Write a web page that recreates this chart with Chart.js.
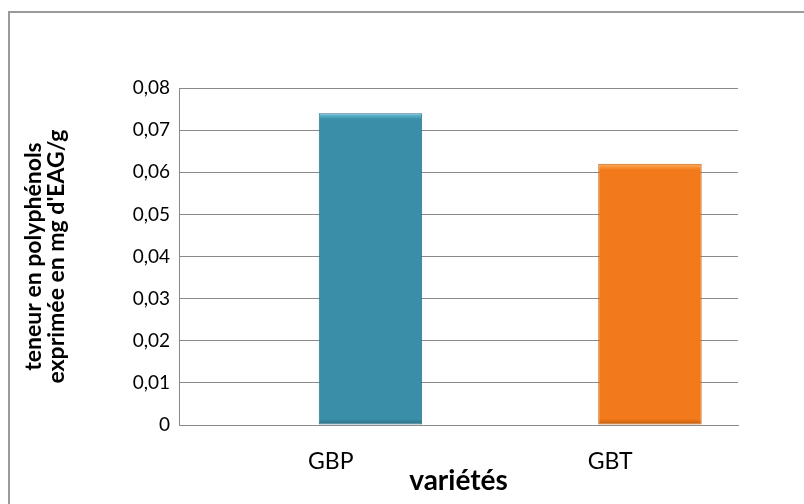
<!DOCTYPE html>
<html><head><meta charset="utf-8">
<script src="https://cdn.jsdelivr.net/npm/chart.js@4/dist/chart.umd.min.js"></script>
<style>
html,body{margin:0;padding:0;background:#fff;overflow:hidden}
#frame{position:absolute;left:8px;top:11px;width:900px;height:600px;border-left:2px solid #9a9a9a;border-top:2px solid #9a9a9a}
#wrap{position:absolute;left:0;top:0;width:804px;height:504px}
</style></head>
<body>
<div id="frame"></div>
<div id="wrap"><canvas id="c" width="804" height="504"></canvas></div>
<script>
const categories = ['GBP', 'GBT'];
const values = [0.074, 0.062];
const yTitle = ['teneur en polyphénols', "exprimée en mg d'EAG/g"];
const xTitle = 'variétés';
const fills = ['#3b8ea7', '#f27a1a'];
const lights = ['#6cc3dc', '#ffae5e'];
const darks = ['#2a6a7e', '#b8590c'];
const borders = ['#2c7085', '#c65e0c'];

function barFill(ctx) {
  const i = ctx.dataIndex;
  const chart = ctx.chart;
  const ys = chart.scales && chart.scales.y;
  if (!ys || ys.top === undefined || !isFinite(ys.getPixelForValue(values[i]))) return fills[i];
  const yTop = ys.getPixelForValue(values[i]);
  const yBase = ys.getPixelForValue(0);
  const h = Math.max(yBase - yTop, 1);
  const g = chart.ctx.createLinearGradient(0, yTop, 0, yBase);
  const e = Math.min(6 / h, 0.2);
  g.addColorStop(0, lights[i]);
  g.addColorStop(e, fills[i]);
  g.addColorStop(1 - e, fills[i]);
  g.addColorStop(1, darks[i]);
  return g;
}

new Chart(document.getElementById('c'), {
  type: 'bar',
  data: {
    labels: categories,
    datasets: [
      {data: categories.map(() => null), backgroundColor: 'rgba(0,0,0,0)'},
      {data: values, backgroundColor: barFill, borderColor: borders, borderWidth: 1, borderSkipped: false}
    ]
  },
  options: {
    responsive: false,
    animation: false,
    categoryPercentage: 0.74,
    barPercentage: 1,
    layout: {padding: {left: 0, right: 66, top: 88, bottom: 0}},
    plugins: {legend: {display: false}, tooltip: {enabled: false}},
    scales: {
      y: {
        min: 0, max: 0.08,
        ticks: {stepSize: 0.01, color: '#000', padding: 9,
          font: {family: 'Lato', size: 19},
          callback: v => v === 0 ? '0' : v.toFixed(2).replace('.', ',')},
        grid: {color: '#8a8a8a', lineWidth: 1, drawTicks: false},
        border: {display: true, color: '#8a8a8a', width: 1},
        title: {display: true, text: yTitle, color: '#000', padding: {top: 22, bottom: 0},
          font: {family: 'Lato', size: 23, weight: 'bold', lineHeight: 1.0}},
        afterFit: s => { s.width = 179; }
      },
      x: {
        ticks: {color: '#000', padding: 23, labelOffset: 12, font: {family: 'Lato', size: 23}},
        grid: {display: false, drawTicks: false},
        border: {display: true, color: '#8a8a8a', width: 1},
        title: {display: true, text: xTitle, color: '#000', padding: {top: 0, bottom: 6},
          font: {family: 'Lato', size: 28, weight: 'bold', lineHeight: 1.2}},
        afterFit: s => { s.height = 79; }
      }
    }
  }
});
</script>
</body></html>
